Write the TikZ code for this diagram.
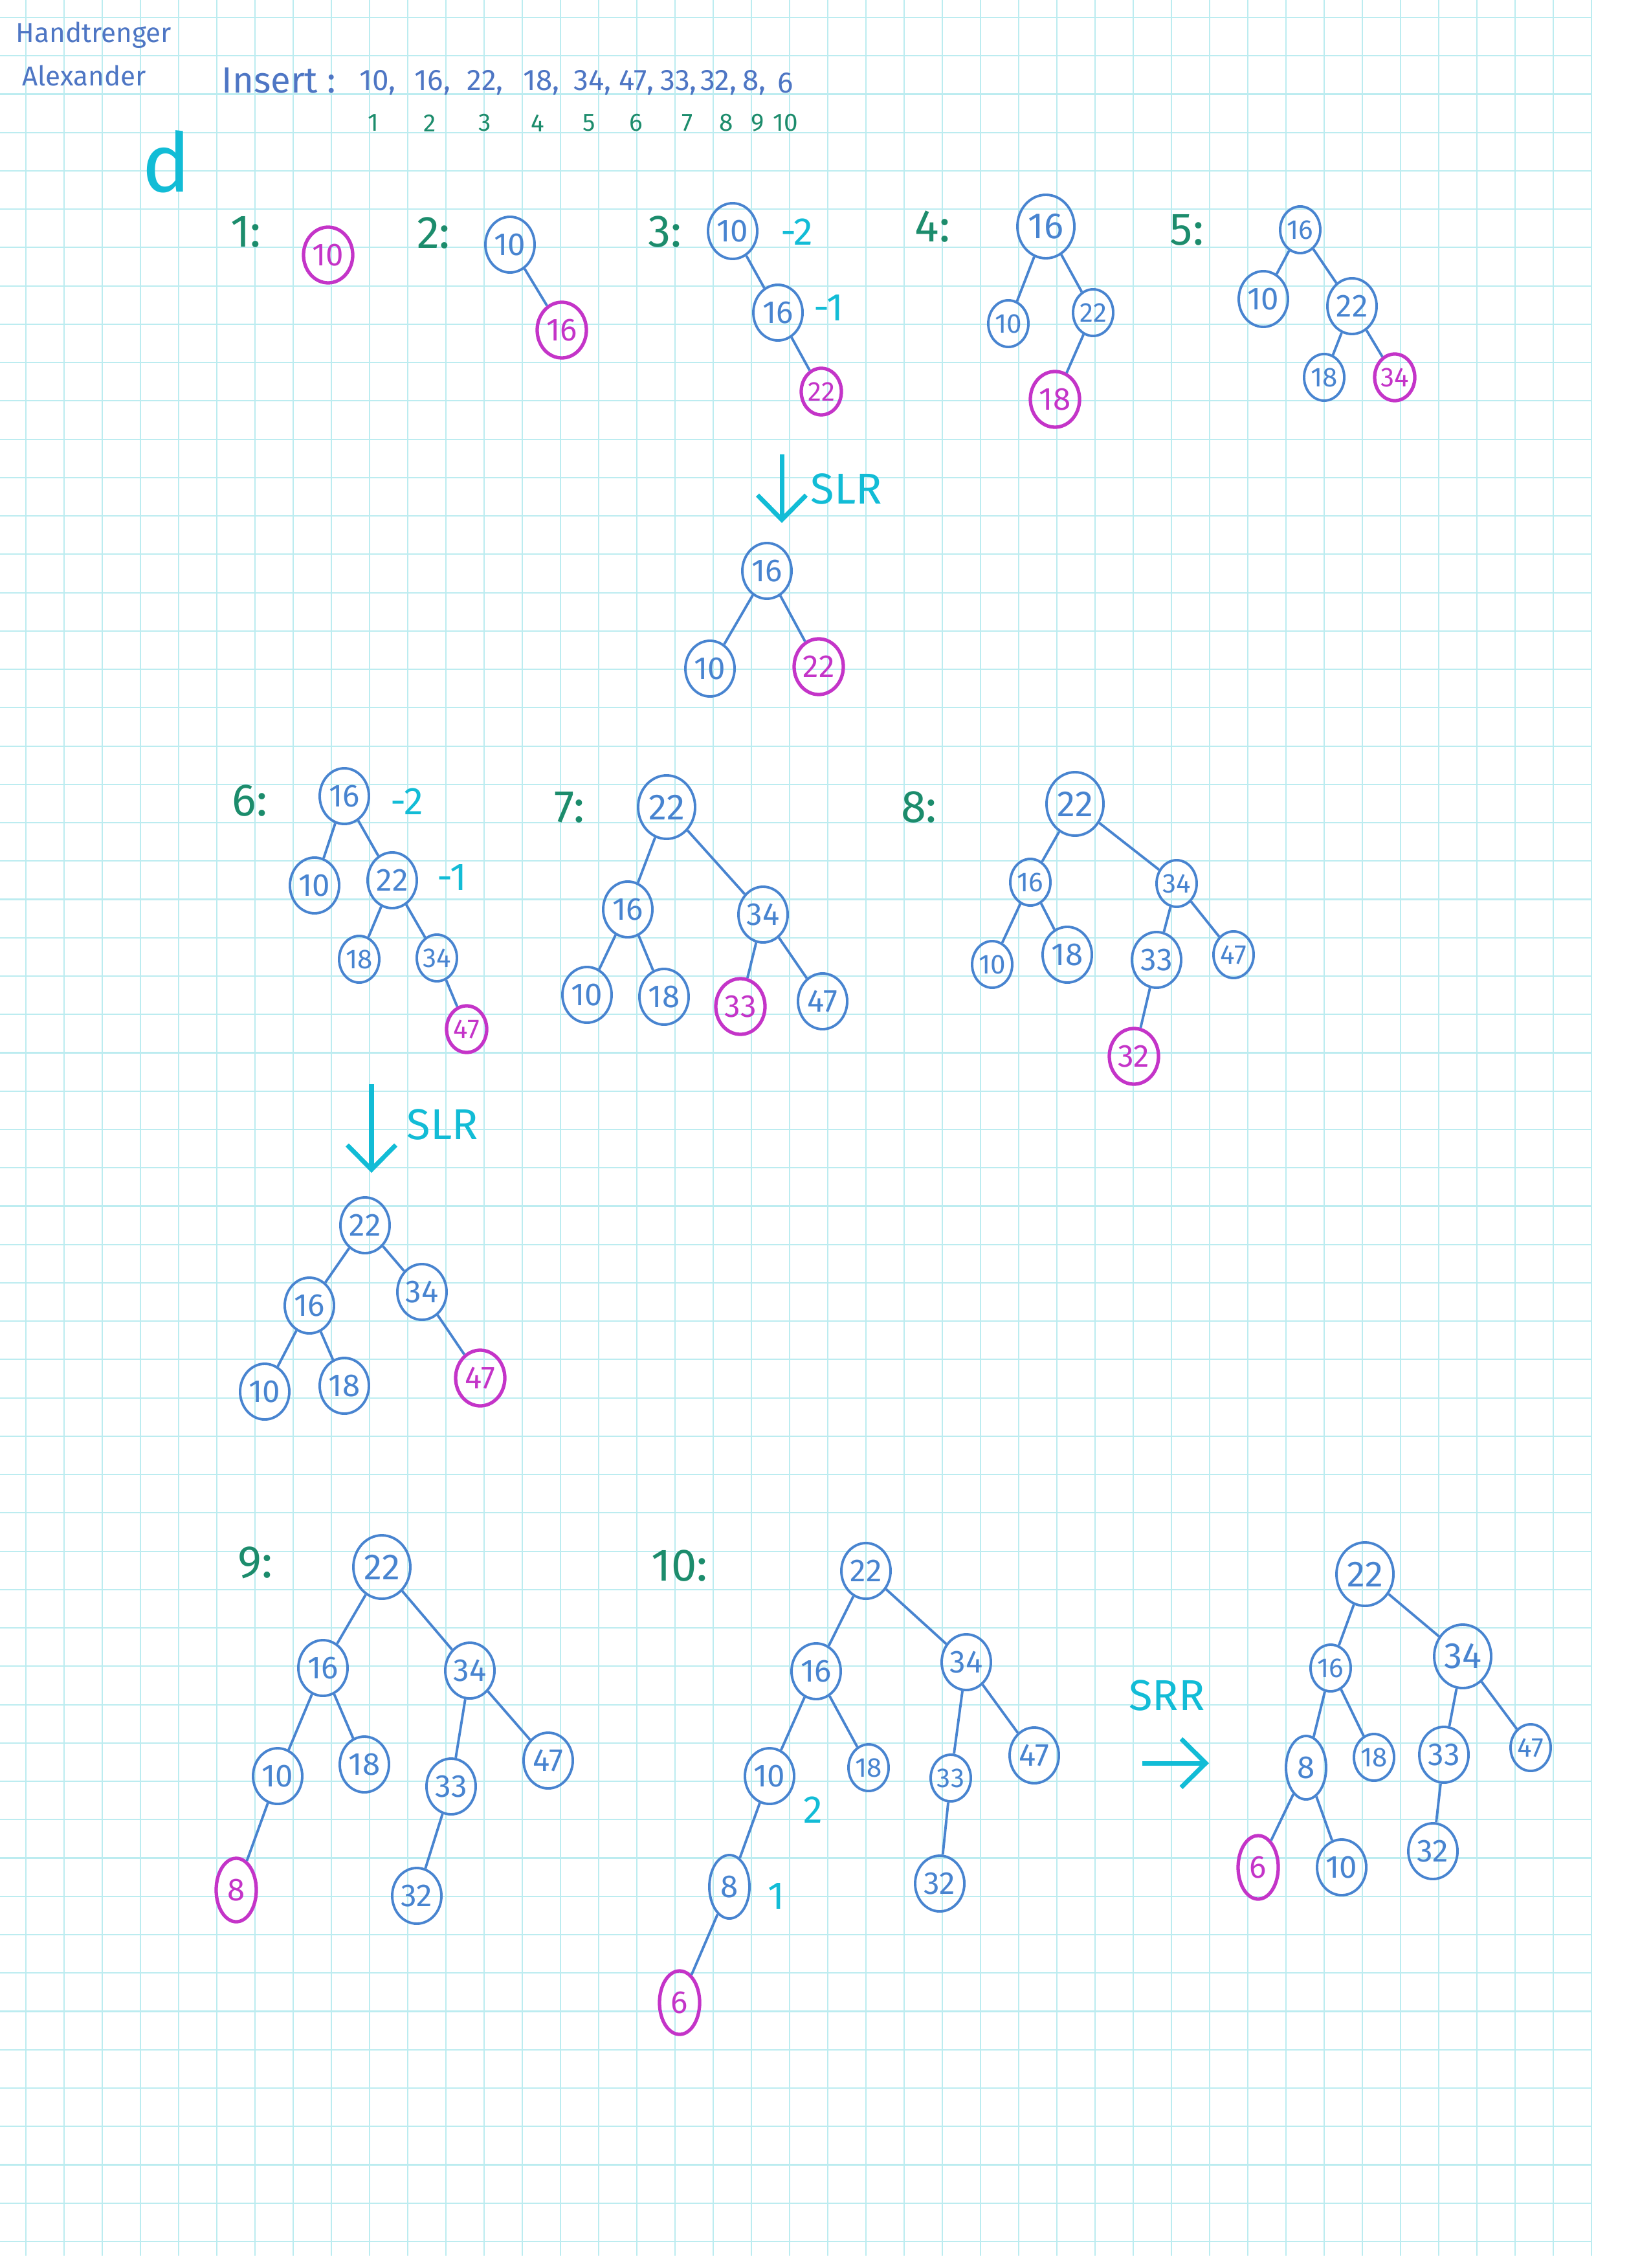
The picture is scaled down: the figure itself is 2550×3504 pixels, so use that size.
\documentclass[tikz,border=0pt]{standalone}
\usepackage{fontspec}
\setmainfont{Fira Sans}
\usetikzlibrary{shapes.geometric,arrows.meta}

\definecolor{gridc}{RGB}{188,236,240}
\definecolor{penblue}{RGB}{72,132,208}
\definecolor{headblue}{RGB}{78,118,196}
\definecolor{inkpink}{RGB}{196,52,200}
\definecolor{inkgreen}{RGB}{28,140,108}
\definecolor{inkcyan}{RGB}{18,188,214}

\begin{document}
\begin{tikzpicture}[
    x=0.01cm, y=-0.01cm,
    every node/.style={font=\fontsize{14}{14}\selectfont},
    nd/.style={
        draw=penblue,
        ellipse,
        line width=1.1pt,
        inner sep=0pt,
        minimum width=0.76cm,
        minimum height=0.86cm,
        text=penblue
    },
    sm/.style={minimum width=0.62cm, minimum height=0.72cm, font=\fontsize{12}{12}\selectfont},
    big/.style={minimum width=0.88cm, minimum height=0.98cm, font=\fontsize{16}{16}\selectfont},
    tall/.style={minimum width=0.62cm, minimum height=0.98cm},
    new/.style={draw=inkpink, text=inkpink, line width=1.5pt},
    branch/.style={draw=penblue, line width=1.1pt},
    steplbl/.style={text=inkgreen, font=\fontsize{20}{20}\selectfont},
    bal/.style={text=inkcyan, font=\fontsize{17}{17}\selectfont},
    rotarrow/.style={-{Straight Barb[length=0.38cm,width=0.75cm]}, draw=inkcyan, line width=2pt},
    rotlbl/.style={text=inkcyan, font=\fontsize{19}{19}\selectfont},
    author/.style={text=headblue, font=\fontsize{12}{12}\selectfont},
    hdr/.style={text=headblue, font=\fontsize{16}{16}\selectfont},
    seqval/.style={text=headblue, font=\fontsize{13}{13}\selectfont},
    idx/.style={text=inkgreen, font=\fontsize{11}{11}\selectfont},
    gridline/.style={draw=gridc, line width=0.6pt}
]

% sheet
\fill[white] (0,0) rectangle (2550,3504);
\useasboundingbox (0,0) rectangle (2550,3504);
\foreach \i in {0,...,41}
    \draw[gridline] ({40+59*\i},0) -- ({40+59*\i},3485);
\foreach \j in {0,...,58}
    \draw[gridline] (0,{27+59.24*\j}) -- (2460,{27+59.24*\j});

% header
\node[author] (name1) at (145,54) {Handtrenger};
\node[author] (name2) at (130,117) {Alexander};
\node[hdr] (ins) at (431,124) {Insert :};
\foreach \v/\x [count=\k] in {10/578,16/663,22/744,18/831,34/910,47/978,33/1043,32/1105,8/1160}
    \node[seqval] (val\k) at (\x,128) {\v\rlap{,}};
\node[seqval] (val10) at (1214,128) {6};
\foreach \x [count=\k] in {577,664,749,831,910,983,1062,1122,1171,1214}
    \node[idx] (idx\k) at (\x,190) {\k};
\node[text=inkcyan, font=\fontsize{36}{36}\selectfont] (part) at (257,250) {d};

% 1
\node[steplbl] (lbl1) at (380,358) {1:};
\node[nd,new] (s1n10) at (507,394) {10};

% 2
\node[steplbl] (lbl2) at (670,360) {2:};
\node[nd] (s2n10) at (788,378) {10};
\node[nd,new] (s2n16) at (868,510) {16};
\draw[branch] (s2n10) -- (s2n16);

% 3
\node[steplbl] (lbl3) at (1027,358) {3:};
\node[nd] (s3n10) at (1132,357) {10};
\node[bal] (b3a) at (1231,358) {-2};
\node[nd] (s3n16) at (1202,483) {16};
\node[bal] (b3b) at (1280,476) {-1};
\node[nd,sm,new] (s3n22) at (1269,605) {22};
\draw[branch] (s3n10) -- (s3n16);
\draw[branch] (s3n16) -- (s3n22);

% 4
\node[steplbl] (lbl4) at (1441,350) {4:};
\node[nd,big] (s4n16) at (1616,350) {16};
\node[nd,sm] (s4n10) at (1558,500) {10};
\node[nd,sm] (s4n22) at (1689,483) {22};
\node[nd,new] (s4n18) at (1630,617) {18};
\draw[branch] (s4n16) -- (s4n10);
\draw[branch] (s4n16) -- (s4n22);
\draw[branch] (s4n22) -- (s4n18);

% 5
\node[steplbl] (lbl5) at (1834,355) {5:};
\node[nd,sm] (s5n16) at (2009,355) {16};
\node[nd] (s5n10) at (1952,462) {10};
\node[nd] (s5n22) at (2089,473) {22};
\node[nd,sm] (s5n18) at (2046,583) {18};
\node[nd,sm,new] (s5n34) at (2155,583) {34};
\draw[branch] (s5n16) -- (s5n10);
\draw[branch] (s5n16) -- (s5n22);
\draw[branch] (s5n22) -- (s5n18);
\draw[branch] (s5n22) -- (s5n34);

% SLR after 3
\coordinate (slr1a) at (1208,702);
\coordinate (slr1b) at (1208,808);
\draw[rotarrow] (slr1a) -- (slr1b);
\node[rotlbl] (slr1) at (1308,755) {SLR};
\node[nd] (r1n16) at (1185,882) {16};
\node[nd] (r1n10) at (1097,1033) {10};
\node[nd,new] (r1n22) at (1265,1030) {22};
\draw[branch] (r1n16) -- (r1n10);
\draw[branch] (r1n16) -- (r1n22);

% 6
\node[steplbl] (lbl6) at (386,1237) {6:};
\node[nd] (s6n16) at (532,1230) {16};
\node[bal] (b6a) at (629,1238) {-2};
\node[nd] (s6n10) at (486,1368) {10};
\node[nd] (s6n22) at (606,1360) {22};
\node[bal] (b6b) at (698,1355) {-1};
\node[nd,sm] (s6n18) at (555,1482) {18};
\node[nd,sm] (s6n34) at (675,1480) {34};
\node[nd,sm,new] (s6n47) at (721,1590) {47};
\draw[branch] (s6n16) -- (s6n10);
\draw[branch] (s6n16) -- (s6n22);
\draw[branch] (s6n22) -- (s6n18);
\draw[branch] (s6n22) -- (s6n34);
\draw[branch] (s6n34) -- (s6n47);

% 7
\node[steplbl] (lbl7) at (880,1247) {7:};
\node[nd,big] (s7n22) at (1030,1247) {22};
\node[nd] (s7n16) at (970,1405) {16};
\node[nd] (s7n34) at (1179,1413) {34};
\node[nd] (s7n10) at (907,1537) {10};
\node[nd] (s7n18) at (1026,1540) {18};
\node[nd,new] (s7n33) at (1144,1555) {33};
\node[nd] (s7n47) at (1271,1547) {47};
\draw[branch] (s7n22) -- (s7n16);
\draw[branch] (s7n22) -- (s7n34);
\draw[branch] (s7n16) -- (s7n10);
\draw[branch] (s7n16) -- (s7n18);
\draw[branch] (s7n34) -- (s7n33);
\draw[branch] (s7n34) -- (s7n47);

% 8
\node[steplbl] (lbl8) at (1420,1247) {8:};
\node[nd,big] (s8n22) at (1661,1242) {22};
\node[nd,sm] (s8n16) at (1592,1363) {16};
\node[nd,sm] (s8n34) at (1818,1365) {34};
\node[nd,sm] (s8n10) at (1533,1490) {10};
\node[nd] (s8n18) at (1649,1475) {18};
\node[nd] (s8n33) at (1787,1483) {33};
\node[nd,sm] (s8n47) at (1906,1475) {47};
\node[nd,new] (s8n32) at (1752,1632) {32};
\draw[branch] (s8n22) -- (s8n16);
\draw[branch] (s8n22) -- (s8n34);
\draw[branch] (s8n16) -- (s8n10);
\draw[branch] (s8n16) -- (s8n18);
\draw[branch] (s8n34) -- (s8n33);
\draw[branch] (s8n34) -- (s8n47);
\draw[branch] (s8n33) -- (s8n32);

% SLR after 6
\coordinate (slr2a) at (574,1675);
\coordinate (slr2b) at (574,1812);
\draw[rotarrow] (slr2a) -- (slr2b);
\node[rotlbl] (slr2) at (684,1737) {SLR};
\node[nd] (r2n22) at (564,1893) {22};
\node[nd] (r2n16) at (478,2017) {16};
\node[nd] (r2n34) at (652,1996) {34};
\node[nd] (r2n10) at (409,2150) {10};
\node[nd] (r2n18) at (532,2141) {18};
\node[nd,new] (r2n47) at (742,2129) {47};
\draw[branch] (r2n22) -- (r2n16);
\draw[branch] (r2n22) -- (r2n34);
\draw[branch] (r2n16) -- (r2n10);
\draw[branch] (r2n16) -- (r2n18);
\draw[branch] (r2n34) -- (r2n47);

% 9
\node[steplbl] (lbl9) at (394,2414) {9:};
\node[nd,big] (s9n22) at (590,2421) {22};
\node[nd] (s9n16) at (499,2577) {16};
\node[nd] (s9n34) at (726,2581) {34};
\node[nd] (s9n10) at (429,2744) {10};
\node[nd] (s9n18) at (563,2726) {18};
\node[nd] (s9n33) at (697,2760) {33};
\node[nd] (s9n47) at (847,2720) {47};
\node[nd,tall,new] (s9n8) at (365,2920) {8};
\node[nd] (s9n32) at (644,2929) {32};
\draw[branch] (s9n22) -- (s9n16);
\draw[branch] (s9n22) -- (s9n34);
\draw[branch] (s9n16) -- (s9n10);
\draw[branch] (s9n16) -- (s9n18);
\draw[branch] (s9n34) -- (s9n33);
\draw[branch] (s9n34) -- (s9n47);
\draw[branch] (s9n10) -- (s9n8);
\draw[branch] (s9n33) -- (s9n32);

% 10
\node[steplbl] (lbl10) at (1050,2419) {10:};
\node[nd] (s10n22) at (1338,2427) {22};
\node[nd] (s10n16) at (1261,2582) {16};
\node[nd] (s10n34) at (1493,2568) {34};
\node[nd] (s10n10) at (1189,2744) {10};
\node[bal] (b10a) at (1256,2796) {2};
\node[nd,sm] (s10n18) at (1342,2731) {18};
\node[nd,sm] (s10n33) at (1469,2747) {33};
\node[nd] (s10n47) at (1598,2712) {47};
\node[nd,tall] (s10n8) at (1127,2915) {8};
\node[bal] (b10b) at (1199,2929) {1};
\node[nd] (s10n32) at (1452,2910) {32};
\node[nd,tall,new] (s10n6) at (1050,3094) {6};
\draw[branch] (s10n22) -- (s10n16);
\draw[branch] (s10n22) -- (s10n34);
\draw[branch] (s10n16) -- (s10n10);
\draw[branch] (s10n16) -- (s10n18);
\draw[branch] (s10n34) -- (s10n33);
\draw[branch] (s10n34) -- (s10n47);
\draw[branch] (s10n10) -- (s10n8);
\draw[branch] (s10n8) -- (s10n6);
\draw[branch] (s10n33) -- (s10n32);

% SRR
\node[rotlbl] (srr) at (1803,2619) {SRR};
\coordinate (srra) at (1765,2724);
\coordinate (srrb) at (1868,2724);
\draw[rotarrow] (srra) -- (srrb);
\node[nd,big] (fn22) at (2109,2432) {22};
\node[nd,sm] (fn16) at (2056,2577) {16};
\node[nd,big] (fn34) at (2260,2559) {34};
\node[nd,tall] (fn8) at (2018,2731) {8};
\node[nd,sm] (fn18) at (2123,2715) {18};
\node[nd] (fn33) at (2231,2711) {33};
\node[nd,sm] (fn47) at (2365,2700) {47};
\node[nd,tall,new] (fn6) at (1944,2885) {6};
\node[nd] (fn10) at (2073,2885) {10};
\node[nd] (fn32) at (2214,2860) {32};
\draw[branch] (fn22) -- (fn16);
\draw[branch] (fn22) -- (fn34);
\draw[branch] (fn16) -- (fn8);
\draw[branch] (fn16) -- (fn18);
\draw[branch] (fn34) -- (fn33);
\draw[branch] (fn34) -- (fn47);
\draw[branch] (fn8) -- (fn6);
\draw[branch] (fn8) -- (fn10);
\draw[branch] (fn33) -- (fn32);

\end{tikzpicture}
\end{document}
